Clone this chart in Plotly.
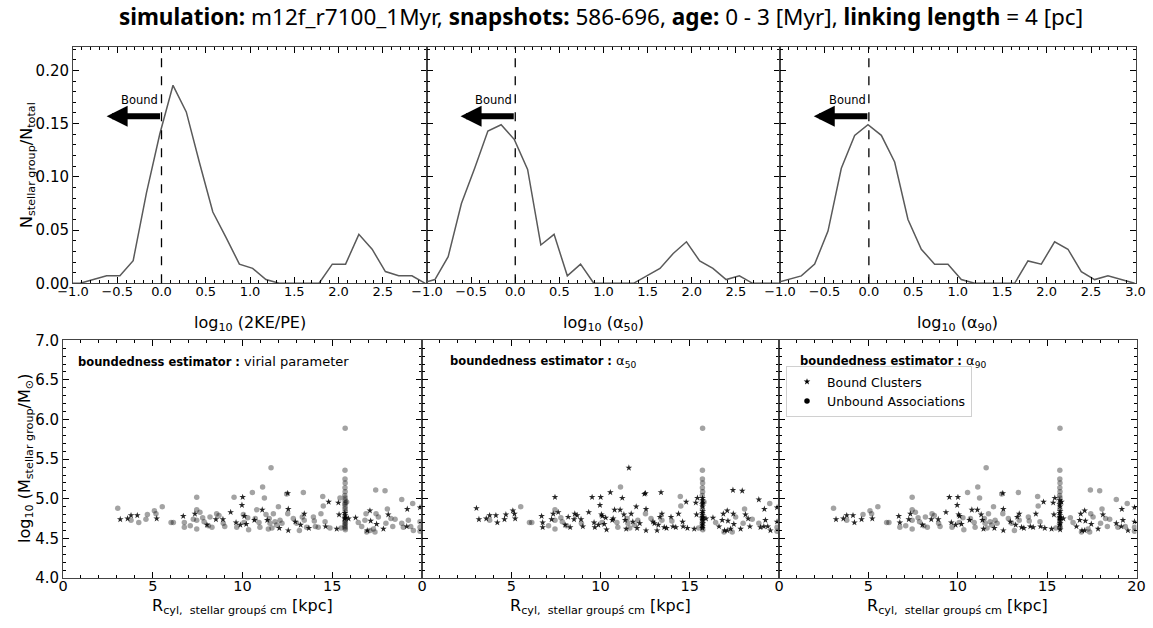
import plotly.graph_objects as go

W, H = 1153, 628

# ---------------- top row: distributions of the boundedness estimators ----------------
VIR_BINS = [-1.07, -0.92, -0.77, -0.62, -0.47, -0.32, -0.17, -0.02, 0.13, 0.28, 0.43, 0.58, 0.73, 0.88,
            1.03, 1.18, 1.33, 1.48, 1.63, 1.78, 1.93, 2.08, 2.23, 2.38, 2.53, 2.68, 2.83, 2.98]
VIR_FRAC = [0, 0, 0.0035, 0.0071, 0.0071, 0.0213, 0.085, 0.140, 0.186, 0.161, 0.113, 0.067, 0.043, 0.018,
            0.014, 0.0035, 0, 0, 0, 0, 0.018, 0.018, 0.046, 0.032, 0.011, 0.0071, 0.0071, 0]

A50_BINS = [-1.06, -0.91, -0.76, -0.61, -0.46, -0.31, -0.16, -0.01, 0.14, 0.29, 0.44, 0.59, 0.74, 0.89,
            1.04, 1.19, 1.34, 1.49, 1.64, 1.79, 1.94, 2.09, 2.24, 2.39, 2.54, 2.69, 2.84, 2.99]
A50_FRAC = [0, 0.0035, 0.025, 0.075, 0.108, 0.143, 0.149, 0.135, 0.107, 0.036, 0.046, 0.007, 0.018, 0,
            0, 0, 0, 0.007, 0.014, 0.028, 0.039, 0.021, 0.014, 0.0035, 0.007, 0, 0, 0]

A90_BINS = [-1.06, -0.91, -0.76, -0.61, -0.46, -0.31, -0.16, -0.01, 0.14, 0.29, 0.44, 0.59, 0.74, 0.89,
            1.04, 1.19, 1.34, 1.49, 1.64, 1.79, 1.94, 2.09, 2.24, 2.39, 2.54, 2.69, 2.84, 2.99]
A90_FRAC = [0, 0.0035, 0.007, 0.018, 0.049, 0.108, 0.139, 0.149, 0.139, 0.114, 0.060, 0.032, 0.018, 0.018,
            0.0035, 0, 0, 0, 0, 0.021, 0.018, 0.039, 0.032, 0.011, 0.0035, 0.007, 0.0035, 0]

TOP_XLABELS = ["log<sub>10</sub> (2KE/PE)", "log<sub>10</sub> (α<sub>50</sub>)", "log<sub>10</sub> (α<sub>90</sub>)"]

# ---------------- bottom row: stellar groups (galactocentric radius vs mass) ----------------
R_CYL = [3.05, 3.19, 3.60, 3.79, 3.79, 4.14, 4.22, 4.62, 4.70, 5.09, 5.18, 5.22, 5.53, 6.02, 6.15, 6.70,
         6.76, 6.76, 7.09, 7.26, 7.35, 7.45, 7.45, 7.45, 7.45, 7.63, 7.78, 7.86, 8.02, 8.10, 8.19, 8.30,
         8.52, 8.56, 8.69, 8.91, 8.93, 9.01, 9.34, 9.53, 9.64, 9.68, 9.88, 9.97, 10.01, 10.05, 10.10, 10.08,
         10.21, 10.29, 10.34, 10.55, 10.66, 10.71, 10.79, 10.92, 10.97, 11.10, 11.12, 11.22, 11.31, 11.38,
         11.44, 11.49, 11.53, 11.59, 11.64, 11.72, 11.81, 11.90, 12.00, 12.05, 12.09, 12.20, 12.46, 12.52,
         12.52, 12.55, 12.55, 12.83, 12.94, 13.02, 13.17, 13.24, 13.33, 13.44, 13.39, 13.44, 13.57, 13.70,
         13.95, 14.00, 14.06, 14.22, 14.37, 14.47, 14.50, 14.60, 14.63, 14.80, 14.87, 15.25, 15.34, 15.38,
         15.43, 15.49, 15.72, 15.71, 15.71, 15.72, 15.71, 15.72, 15.70, 15.72, 15.71, 15.73, 15.70, 15.72,
         15.71, 15.73, 15.70, 15.72, 15.71, 15.74, 15.69, 15.72, 15.71, 15.73, 15.70, 15.72, 15.71, 15.73,
         15.80, 15.91, 16.30, 16.45, 16.64, 16.82, 16.88, 17.10, 17.14, 16.92, 16.95, 17.10, 17.29, 17.42,
         17.44, 17.47, 17.57, 17.38, 17.85, 17.94, 17.99, 18.07, 18.12, 18.27, 18.37, 18.50, 18.87, 19.18,
         18.87, 18.96, 19.15, 19.24, 19.37, 19.52, 19.48, 19.89, 19.89, 19.89, 19.89]
LOG_MASS = [4.88, 4.74, 4.75, 4.73, 4.79, 4.79, 4.70, 4.74, 4.80, 4.85, 4.81, 4.75, 4.90, 4.70, 4.70, 4.78,
            4.70, 4.64, 4.66, 4.74, 4.81, 5.02, 4.86, 4.73, 4.62, 4.83, 4.76, 4.71, 4.67, 4.66, 4.77, 4.64,
            4.74, 4.81, 4.79, 4.74, 4.69, 4.65, 4.83, 5.02, 4.70, 4.64, 4.67, 4.92, 5.02, 4.80, 4.78, 4.70,
            4.68, 4.76, 4.61, 5.08, 4.73, 4.75, 4.86, 4.70, 4.64, 4.86, 5.15, 5.01, 4.80, 4.73,
            4.62, 4.75, 4.69, 5.39, 4.63, 4.81, 4.71, 4.67, 4.90, 4.63, 4.73, 4.69, 5.06, 5.07,
            4.81, 4.87, 4.60, 4.75, 4.71, 4.69, 4.60, 4.67, 4.77, 4.81, 5.08, 4.73, 4.64, 4.63,
            4.77, 4.72, 4.65, 4.64, 4.81, 5.03, 4.91, 4.71, 4.65, 4.96, 4.63, 4.62, 4.95, 4.80,
            5.01, 4.63, 5.89, 5.36, 5.25, 5.20, 5.14, 5.09, 5.04, 5.01, 4.98, 4.95, 4.93, 4.90,
            4.87, 4.84, 4.82, 4.79, 4.77, 4.76, 4.75, 4.73, 4.71, 4.69, 4.67, 4.65, 4.63, 4.61,
            4.96, 4.75, 4.76, 4.70, 4.65, 4.73, 4.81, 4.85, 4.72, 4.58, 4.60, 4.60, 4.62, 5.11,
            4.81, 4.68, 4.77, 4.58, 4.62, 5.10, 4.69, 4.87, 4.80, 4.75, 4.65, 4.74, 4.99, 4.87,
            4.69, 4.64, 4.65, 4.73, 4.65, 4.60, 4.94, 4.89, 4.71, 4.59, 4.64]
# 1 = bound cluster, 0 = unbound association, for each estimator
BOUND_VIR = [0, 1, 1, 0, 1, 1, 0, 0, 0, 0, 0, 1, 0, 0, 0, 1, 0, 0, 0, 0, 1, 0, 0, 0, 0, 0, 0, 0, 1, 0, 0, 0,
             1, 0, 0, 1, 0, 0, 1, 0, 1, 0, 1, 1, 1, 0, 1, 0, 1, 0, 0, 0, 1, 0, 0, 0, 0, 1, 0, 0, 0, 1,
             0, 0, 0, 0, 0, 0, 0, 0, 0, 1, 0, 0, 0, 1, 0, 1, 1, 0, 1, 0, 0, 1, 0, 1, 0, 0, 0, 1,
             0, 0, 0, 0, 0, 0, 0, 0, 1, 1, 0, 1, 1, 1, 0, 0, 0, 0, 0, 0, 0, 0, 0, 0, 0, 0, 0, 0,
             0, 0, 1, 1, 0, 1, 1, 0, 0, 0, 0, 0, 0, 0, 0, 1, 1, 0, 0, 0, 0, 1, 1, 0, 1, 0, 0, 0,
             0, 1, 0, 0, 1, 0, 0, 0, 1, 0, 0, 0, 0, 1, 0, 0, 1, 0, 0, 0, 0, 1, 0, 0, 0, 1, 0]
BOUND_A50 = [1, 1, 1, 0, 1, 1, 1, 1, 1, 1, 1, 1, 0, 0, 0, 1, 1, 1, 0, 1, 1, 1, 0, 0, 0, 1, 0, 0, 1, 0, 1, 1,
             1, 1, 1, 1, 0, 1, 1, 1, 1, 1, 1, 1, 1, 1, 1, 0, 1, 1, 1, 1, 1, 1, 1, 0, 0, 1, 0, 1, 1, 1,
             1, 0, 0, 1, 0, 1, 1, 0, 1, 1, 0, 1, 1, 1, 0, 1, 1, 0, 1, 1, 1, 1, 1, 1, 1, 0, 1, 1,
             1, 0, 1, 1, 1, 0, 0, 1, 1, 1, 1, 1, 1, 1, 1, 0, 0, 0, 0, 0, 0, 0, 0, 1, 1, 1, 1, 1,
             0, 1, 1, 1, 1, 1, 1, 1, 0, 1, 1, 1, 1, 0, 0, 1, 1, 0, 1, 1, 1, 1, 1, 0, 1, 1, 1, 1,
             1, 1, 0, 0, 1, 1, 0, 0, 1, 1, 1, 0, 1, 1, 0, 1, 1, 1, 1, 1, 0, 1, 1, 0, 0, 1, 0]
BOUND_A90 = [0, 1, 1, 0, 1, 1, 1, 1, 0, 0, 0, 1, 0, 0, 0, 1, 1, 0, 0, 1, 1, 0, 0, 0, 0, 0, 0, 0, 1, 0, 0, 0,
             1, 0, 0, 1, 0, 0, 1, 1, 1, 0, 1, 1, 1, 1, 1, 0, 1, 0, 0, 0, 1, 0, 1, 0, 0, 1, 0, 0, 1, 1,
             1, 0, 0, 0, 0, 0, 0, 0, 0, 1, 0, 0, 0, 1, 0, 1, 1, 0, 1, 0, 0, 1, 1, 1, 0, 0, 1, 1,
             0, 0, 1, 1, 1, 0, 0, 0, 1, 1, 1, 1, 1, 1, 1, 0, 0, 0, 0, 0, 0, 0, 0, 0, 1, 0, 1, 1,
             0, 1, 1, 1, 1, 1, 1, 1, 0, 1, 1, 0, 0, 1, 1, 1, 0, 0, 1, 1, 1, 1, 1, 0, 1, 1, 0, 0,
             0, 1, 0, 0, 1, 0, 0, 0, 1, 0, 0, 0, 0, 1, 1, 0, 1, 1, 0, 1, 0, 1, 1, 0, 0, 1, 0]
ESTIMATOR_NAMES = ["virial parameter", "α<sub>50</sub>", "α<sub>90</sub>"]

TITLE = ("<b>simulation:</b> m12f_r7100_1Myr, <b>snapshots:</b> 586-696, "
         "<b>age:</b> 0 - 3 [Myr], <b>linking length</b> = 4 [pc]")

FONT = "DejaVu Sans"


def px_x(p):
    return p / W


def px_y(p):
    return 1 - p / H


# panel frames in pixels
TOP_X = [(73, 427), (427, 780), (780, 1135.5)]
TOP_Y = (47, 283.3)
BOT_X = [(63, 422), (422, 779), (779, 1136.5)]
BOT_Y = (340.3, 578)

fig = go.Figure()

axis_common = dict(
    showline=True, linecolor="#444", linewidth=1, mirror="allticks",
    ticks="inside", ticklen=6, tickwidth=1, tickcolor="black",
    showgrid=False, zeroline=False, color="black", automargin=False,
)

layout_axes = {}
for i in range(3):
    n = i + 1
    xa = "xaxis" if n == 1 else f"xaxis{n}"
    ya = "yaxis" if n == 1 else f"yaxis{n}"
    xvals = [-1.0, -0.5, 0.0, 0.5, 1.0, 1.5, 2.0, 2.5] + ([3.0] if i == 2 else [])
    layout_axes[xa] = dict(
        axis_common, domain=[px_x(TOP_X[i][0]), px_x(TOP_X[i][1])], range=[-1.0, 3.0],
        anchor=f"y{'' if n == 1 else n}", tickmode="array", tickvals=xvals, tickformat=".1f",
        tickfont=dict(family=FONT, size=13), ticklabelstandoff=-4,
        minor=dict(ticks="inside", ticklen=3, tickcolor="black", dtick=0.1, tick0=0, showgrid=False),
    )
    layout_axes[ya] = dict(
        axis_common, domain=[px_y(TOP_Y[1]), px_y(TOP_Y[0])], range=[0, 0.222],
        anchor=f"x{'' if n == 1 else n}", tickmode="array", tickvals=[0, 0.05, 0.10, 0.15, 0.20],
        tickformat=".2f", showticklabels=(i == 0), tickfont=dict(family=FONT, size=15),
        minor=dict(ticks="inside", ticklen=3, tickcolor="black", dtick=0.01, tick0=0, showgrid=False),
    )

for i in range(3):
    n = i + 4
    xvals = [0, 5, 10, 15] + ([20] if i == 2 else [])
    layout_axes[f"xaxis{n}"] = dict(
        axis_common, domain=[px_x(BOT_X[i][0]), px_x(BOT_X[i][1])], range=[0, 20],
        anchor=f"y{n}", tickmode="array", tickvals=xvals,
        tickfont=dict(family=FONT, size=14.5), ticklabelstandoff=-5,
        minor=dict(ticks="inside", ticklen=3, tickcolor="black", dtick=1, tick0=0, showgrid=False),
    )
    layout_axes[f"yaxis{n}"] = dict(
        axis_common, domain=[px_y(BOT_Y[1]), px_y(BOT_Y[0])], range=[4.0, 7.0],
        anchor=f"x{n}", tickmode="array", tickvals=[4.0, 4.5, 5.0, 5.5, 6.0, 6.5, 7.0],
        tickformat=".1f", showticklabels=(i == 0), tickfont=dict(family=FONT, size=15),
        minor=dict(ticks="inside", ticklen=3, tickcolor="black", dtick=0.1, tick0=0, showgrid=False),
    )

# distribution curves
for i, (bins, frac) in enumerate([(VIR_BINS, VIR_FRAC), (A50_BINS, A50_FRAC), (A90_BINS, A90_FRAC)]):
    sfx = "" if i == 0 else str(i + 1)
    fig.add_trace(go.Scatter(
        x=bins, y=frac, mode="lines", line=dict(color="#5a5a5a", width=1.5),
        xaxis=f"x{sfx}", yaxis=f"y{sfx}", showlegend=False, hoverinfo="skip",
    ))

# stellar groups, split by the estimator of each panel
for i, flags in enumerate([BOUND_VIR, BOUND_A50, BOUND_A90]):
    n = i + 4
    ux = [r for r, f in zip(R_CYL, flags) if f == 0]
    uy = [m for m, f in zip(LOG_MASS, flags) if f == 0]
    bx = [r for r, f in zip(R_CYL, flags) if f == 1]
    by = [m for m, f in zip(LOG_MASS, flags) if f == 1]
    fig.add_trace(go.Scatter(
        x=ux, y=uy, mode="markers", xaxis=f"x{n}", yaxis=f"y{n}", showlegend=False,
        marker=dict(symbol="circle", size=5.5, color="rgba(0,0,0,0.36)", line=dict(width=0)),
    ))
    fig.add_trace(go.Scatter(
        x=bx, y=by, mode="markers", xaxis=f"x{n}", yaxis=f"y{n}", showlegend=False,
        marker=dict(symbol="star", size=5, color="rgba(0,0,0,0.85)", line=dict(width=0)),
    ))

# legend handles
fig.add_trace(go.Scatter(x=[None], y=[None], mode="markers", name="Bound Clusters",
                         xaxis="x6", yaxis="y6",
                         marker=dict(symbol="star", size=5, color="black")))
fig.add_trace(go.Scatter(x=[None], y=[None], mode="markers", name="Unbound Associations",
                         xaxis="x6", yaxis="y6",
                         marker=dict(symbol="circle", size=5.5, color="black")))

shapes = []
annotations = []
for i in range(3):
    sfx = "" if i == 0 else str(i + 1)
    # boundary at zero
    shapes.append(dict(type="line", xref=f"x{sfx}", yref=f"y{sfx} domain", x0=0, x1=0, y0=0, y1=1,
                       line=dict(color="black", width=1.3, dash="dash")))
    # "Bound" arrow
    annotations.append(dict(xref=f"x{sfx}", yref=f"y{sfx}", axref=f"x{sfx}", ayref=f"y{sfx}",
                            x=-0.62, y=0.157, ax=0.0, ay=0.157, text="", showarrow=True,
                            arrowhead=2, arrowsize=0.7, arrowwidth=6, arrowcolor="black"))
    annotations.append(dict(xref=f"x{sfx}", yref=f"y{sfx}", x=-0.015, y=0.172, text="Bound",
                            showarrow=False, xanchor="right", yanchor="middle",
                            font=dict(family=FONT, size=11.5, color="black")))
    # x titles
    annotations.append(dict(xref="paper", yref="paper", x=px_x((TOP_X[i][0] + TOP_X[i][1]) / 2),
                            y=px_y(323), text=TOP_XLABELS[i], showarrow=False,
                            xanchor="center", yanchor="middle",
                            font=dict(family=FONT, size=16, color="black")))
    annotations.append(dict(xref="paper", yref="paper", x=px_x((BOT_X[i][0] + BOT_X[i][1]) / 2),
                            y=px_y(606), text="R<sub>cyl,  stellar groupś cm</sub> [kpc]",
                            showarrow=False, xanchor="center", yanchor="middle",
                            font=dict(family=FONT, size=16, color="black")))

# estimator labels
EST_X = [76, 448, 798]
for i in range(3):
    annotations.append(dict(xref="paper", yref="paper", x=px_x(EST_X[i]), y=px_y(361.5),
                            text=(f"<b><span style='font-size:11.5px'>boundedness estimator :</span></b>"
                                  f" {ESTIMATOR_NAMES[i]}"),
                            showarrow=False, xanchor="left", yanchor="middle",
                            font=dict(family=FONT, size=13, color="black")))

# y titles
annotations.append(dict(xref="paper", yref="paper", x=px_x(27), y=px_y(165),
                        text="N<sub>stellar group</sub>/N<sub>total</sub>", textangle=-90,
                        showarrow=False, xanchor="center", yanchor="middle",
                        font=dict(family=FONT, size=16, color="black")))
annotations.append(dict(xref="paper", yref="paper", x=px_x(25), y=px_y(459),
                        text="log<sub>10</sub> (M<sub>stellar group</sub>/M<sub>⊙</sub>)", textangle=-90,
                        showarrow=False, xanchor="center", yanchor="middle",
                        font=dict(family=FONT, size=16, color="black")))

fig.update_layout(
    width=W, height=H, autosize=False,
    margin=dict(l=0, r=0, t=0, b=0, autoexpand=False),
    paper_bgcolor="white", plot_bgcolor="white",
    title=dict(text=TITLE, x=px_x(601), xanchor="center", y=px_y(17), yanchor="middle",
               font=dict(family="Noto Sans", size=22.5, color="black")),
    legend=dict(x=px_x(786), y=px_y(366), xanchor="left", yanchor="top",
                bgcolor="white", bordercolor="#d0d0d0", borderwidth=1,
                font=dict(family=FONT, size=12.5, color="black"),
                itemsizing="trace", tracegroupgap=0),
    shapes=shapes, annotations=annotations,
    **layout_axes,
)

fig.write_html("out.html")
